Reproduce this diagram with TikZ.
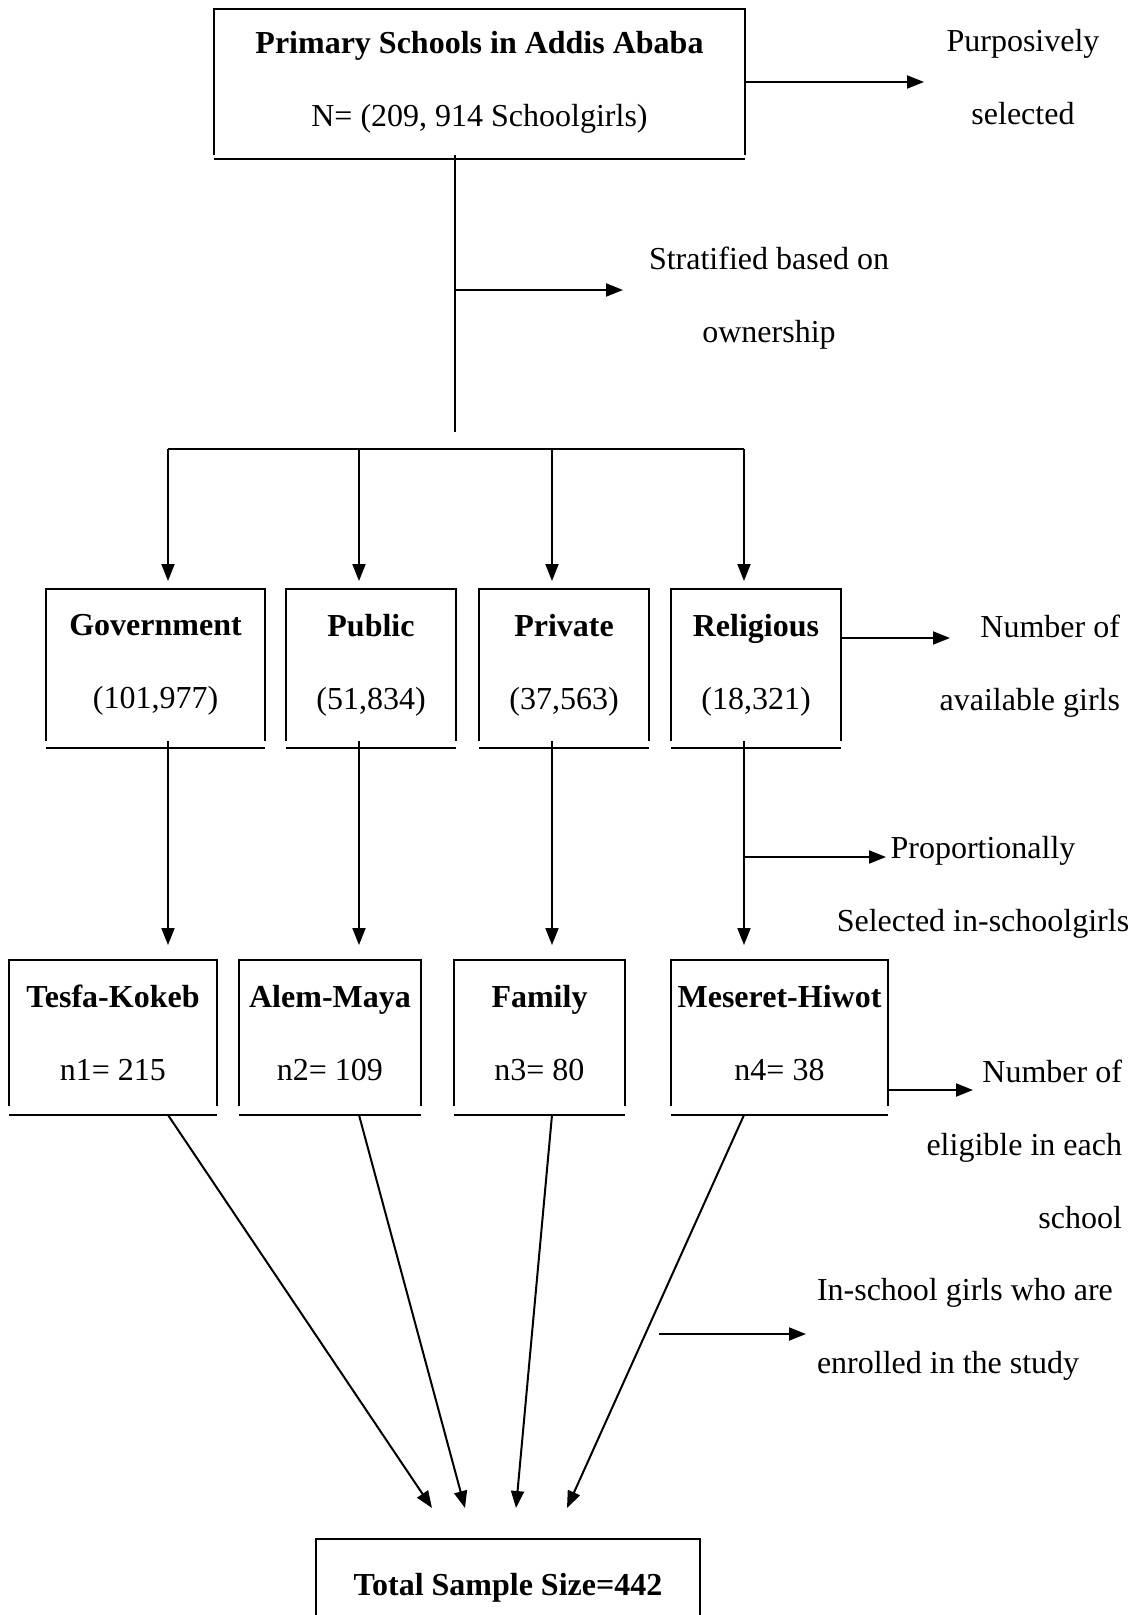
\documentclass[tikz,border=0pt]{standalone}
\usepackage{fontspec}
\setmainfont{Liberation Serif}
\usepackage{tikz}
\usetikzlibrary{arrows.meta}

\tikzset{
	arr/.style={-{Triangle[length=17pt,width=13pt]}},
	sbox/.style={inner sep=2pt, align=center},
	note/.style={inner sep=0pt, align=center}
}

\begin{document}
\begin{tikzpicture}[x=1pt, y=-1pt, line width=2pt, font=\fontsize{32}{73}\selectfont]
	\useasboundingbox (0,0) rectangle (1134,1615);

	% boxes
	\node[sbox, minimum width=529pt, minimum height=144pt] (top) at (479.5,82) {\textbf{Primary Schools in Addis Ababa}\\N= (209, 914 Schoolgirls)};

	\node[sbox, minimum width=217pt, minimum height=150pt] (gov) at (155.5,665) {\textbf{Government}\\(101,977)};
	\node[sbox, minimum width=168pt, minimum height=150pt] (pub) at (371,665) {\textbf{Public}\\(51,834)};
	\node[sbox, minimum width=168pt, minimum height=150pt] (pri) at (564,665) {\textbf{Private}\\(37,563)};
	\node[sbox, minimum width=168pt, minimum height=150pt] (rel) at (756,665) {\textbf{Religious}\\(18,321)};

	\node[sbox, minimum width=206pt, minimum height=144pt] (tes) at (113,1033) {\textbf{Tesfa-Kokeb}\\n1= 215};
	\node[sbox, minimum width=180pt, minimum height=144pt] (ale) at (330,1033) {\textbf{Alem-Maya}\\n2= 109};
	\node[sbox, minimum width=169pt, minimum height=144pt] (fam) at (539.5,1033) {\textbf{Family}\\n3= 80};
	\node[sbox, minimum width=215pt, minimum height=144pt] (mes) at (779.5,1033) {\textbf{Meseret-Hiwot}\\n4= 38};

	\node[sbox, draw, minimum width=384pt, minimum height=98pt] (total) at (508,1588) {\textbf{Total Sample Size=442}};

	% open boxes with the bottom line set a little lower
	\foreach \b/\g in {top/4,gov/7,pub/7,pri/7,rel/7,tes/9,ale/9,fam/9,mes/9} {
		\draw (\b.south west) -- (\b.north west) -- (\b.north east) -- (\b.south east);
		\draw ([yshift=-\g pt]\b.south west) -- ([yshift=-\g pt]\b.south east);
	}

	% side notes
	\node[note] (purp) at (1023,77) {Purposively\\selected};
	\node[note] (strat) at (769,298) {Stratified based on\\ownership};
	\node[note, align=right, anchor=east] (avail) at (1121,666) {Number of\\available girls};
	\node[note] (prop) at (983,887) {Proportionally\\Selected in-schoolgirls};
	\node[note, align=right, anchor=east] (elig) at (1123,1144) {Number of\\eligible in each\\school};
	\node[note, align=left, anchor=west] (enrol) at (816,1329.5) {In-school girls who are\\enrolled in the study};

	% columns
	\coordinate (split) at (455,432);
	\coordinate (c1) at (168,449);
	\coordinate (c2) at (359,449);
	\coordinate (c3) at (552,449);
	\coordinate (c4) at (744,449);
	\coordinate (t1) at (432,1508);
	\coordinate (t2) at (465,1508);
	\coordinate (t3) at (516,1508);
	\coordinate (t4) at (567,1508);

	% free arrow ends
	\coordinate (purpend) at (924,82);
	\coordinate (stratend) at (623,290);
	\coordinate (availend) at (950,638);
	\coordinate (propend) at (886,857);
	\coordinate (eligend) at (973,1090);
	\coordinate (enrstart) at (659,1334);
	\coordinate (enrend) at (806,1334);

	\draw[arr] (top.east) -- (purpend);
	\draw (top.south -| split) -- (split);
	\draw[arr] (stratend -| split) -- (stratend);
	\draw (c1) -- (c4);

	\foreach \c/\a/\d/\t in {c1/gov/tes/t1,c2/pub/ale/t2,c3/pri/fam/t3,c4/rel/mes/t4} {
		\draw[arr, shorten >=8pt] (\c) -- (\c |- \a.north);
		\draw[arr, shorten >=15pt] (\c |- \a.south) -- (\c |- \d.north);
		\draw[arr] ([yshift=-9pt]\c |- \d.south) -- (\t);
	}

	\draw[arr] (rel.east |- availend) -- (availend);
	\draw[arr] (propend -| c4) -- (propend);
	\draw[arr] (mes.east |- eligend) -- (eligend);
	\draw[arr] (enrstart) -- (enrend);
\end{tikzpicture}
\end{document}
